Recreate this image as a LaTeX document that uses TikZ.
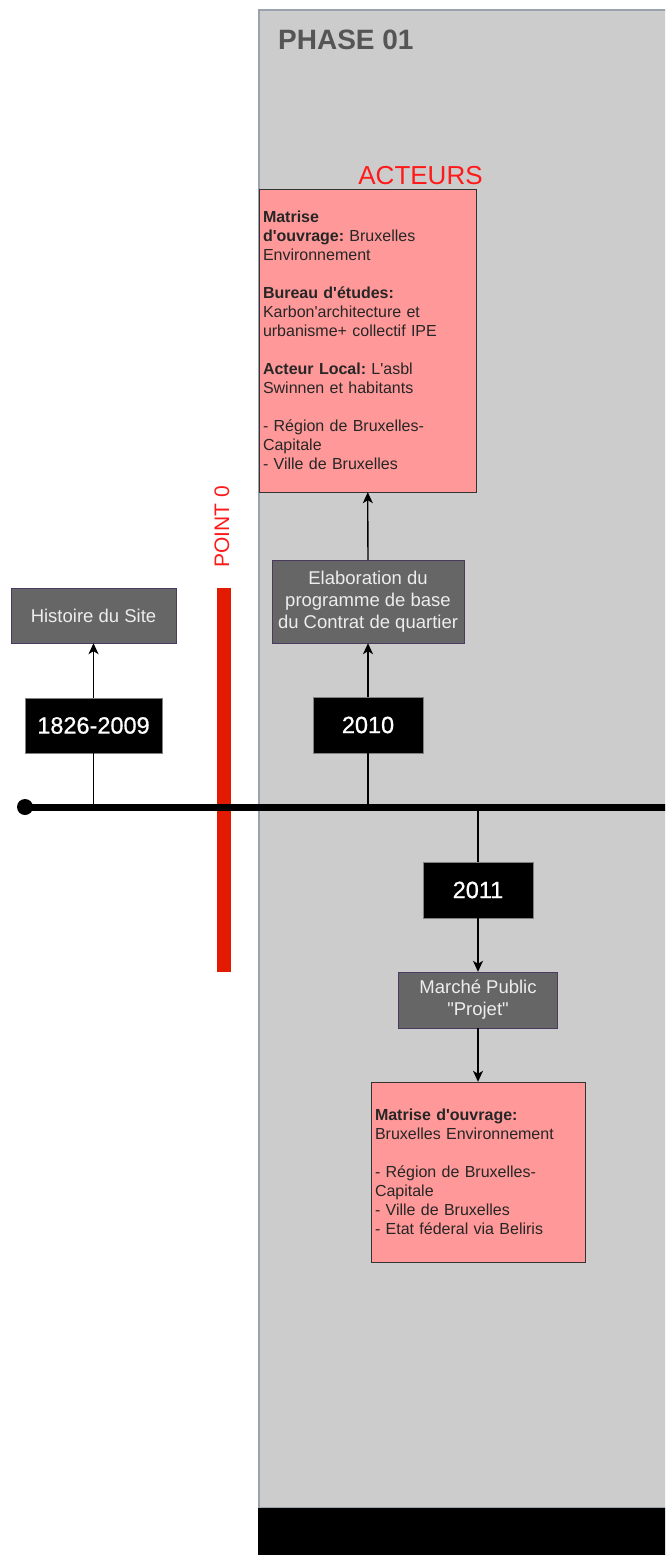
\documentclass[tikz,border=0pt]{standalone}
\usepackage{fontspec}
\setmainfont{Liberation Sans}
\newfontfamily\yearfont{Liberation Sans}[FakeBold=0.8]
\usetikzlibrary{arrows.meta}
\frenchspacing

\definecolor{panelgray}{HTML}{CCCCCC}
\definecolor{paneledge}{HTML}{9AA3AD}
\definecolor{boxgray}{HTML}{666666}
\definecolor{boxedge}{HTML}{4B3A5E}
\definecolor{actorpink}{HTML}{FF9999}
\definecolor{pointred}{HTML}{E21A00}
\definecolor{labelred}{HTML}{FF1A1A}
\definecolor{phasegray}{HTML}{555555}

\begin{document}
\begin{tikzpicture}[x=1pt,y=-1pt,
    stepbox/.style={draw=boxedge,fill=boxgray,text=white!93!black,align=center,inner sep=0,
        font=\fontsize{18.5}{22}\selectfont},
    yearbox/.style={draw=gray,fill=black,text=white,inner sep=0,
        minimum width=110,minimum height=56,font=\yearfont\fontsize{23.5}{28}\selectfont},
    actorbox/.style={draw=black!80,fill=actorpink,text=black!85,align=left,inner sep=3,
        font=\fontsize{16}{19}\selectfont},
    link/.style={line width=1.3pt},
    flow/.style={line width=1.3pt,-{Stealth[length=11pt,width=10pt,inset=3pt]}}]
        \useasboundingbox (0,0) rectangle (665,1555);
        \clip (0,0) rectangle (665,1555);

        % phase panel
        \draw[draw=paneledge,fill=panelgray,line width=1.5] (259,10) rectangle (680,1508);
        \fill[black] (258,1508) rectangle (680,1560);
        \node[anchor=base west,inner sep=0,text=phasegray,font=\bfseries\fontsize{28}{32}\selectfont]
            (phase) at (278,49) {PHASE 01};

        % point 0
        \node[fill=pointred,minimum width=14,minimum height=384,inner sep=0] (pointbar) at (224,780) {};
        \node[rotate=90,anchor=base west,inner sep=0,text=labelred,font=\fontsize{21}{24}\selectfont]
            (point0) at (229,568) {POINT 0};

        % timeline
        \coordinate (start) at (25,807);
        \draw[line width=7] (start) -- (680,807);
        \fill (start) circle (8);

        % years
        \node[yearbox,minimum width=137,minimum height=55] (y1826) at (93.5,725.5) {1826-2009};
        \node[yearbox] (y2010) at (368,725) {2010};
        \node[yearbox] (y2011) at (478,890) {2011};
        \foreach \n in {y1826,y2010,y2011}
            \draw[link] (\n) -- (\n |- start);

        % steps
        \node[stepbox,minimum width=165,minimum height=55] (histoire) at (93.5,615.5) {Histoire du Site};
        \node[stepbox,minimum width=192,minimum height=83] (elab) at (368,601.5)
            {Elaboration du\\programme de base\\du Contrat de quartier};
        \node[stepbox,minimum width=159,minimum height=56] (marche) at (478,1000)
            {March\'e Public\\\textquotedbl Projet\textquotedbl};

        % actors
        \node[anchor=base,inner sep=0,text=labelred,font=\fontsize{26}{30}\selectfont]
            (acteurs) at (420.5,184) {ACTEURS};
        \node[actorbox,minimum width=217,minimum height=303,text width=209] (actors1) at (367.5,340.5)
            {\textbf{Matrise}\\\textbf{d\textquotesingle ouvrage:} Bruxelles\\Environnement\\[19pt]
             \textbf{Bureau d\textquotesingle\'etudes:}\\Karbon\textquotesingle architecture et\\urbanisme+ collectif IPE\\[19pt]
             \textbf{Acteur Local:} L\textquotesingle asbl\\Swinnen et habitants\\[19pt]
             - R\'egion de Bruxelles-\\Capitale\\- Ville de Bruxelles};
        \node[actorbox,minimum width=214,minimum height=180,text width=206] (actors2) at (478,1172)
            {\textbf{Matrise d\textquotesingle ouvrage:}\\Bruxelles Environnement\\[19pt]
             - R\'egion de Bruxelles-\\Capitale\\- Ville de Bruxelles\\- Etat f\'ederal via Beliris};

        % arrows
        \draw[flow] (y1826) -- (histoire);
        \draw[flow] (y2010) -- (elab);
        \draw[flow] (elab) -- (actors1);
        \draw[flow] (y2011) -- (marche);
        \draw[flow] (marche) -- (actors2);
    \end{tikzpicture}
\end{document}
